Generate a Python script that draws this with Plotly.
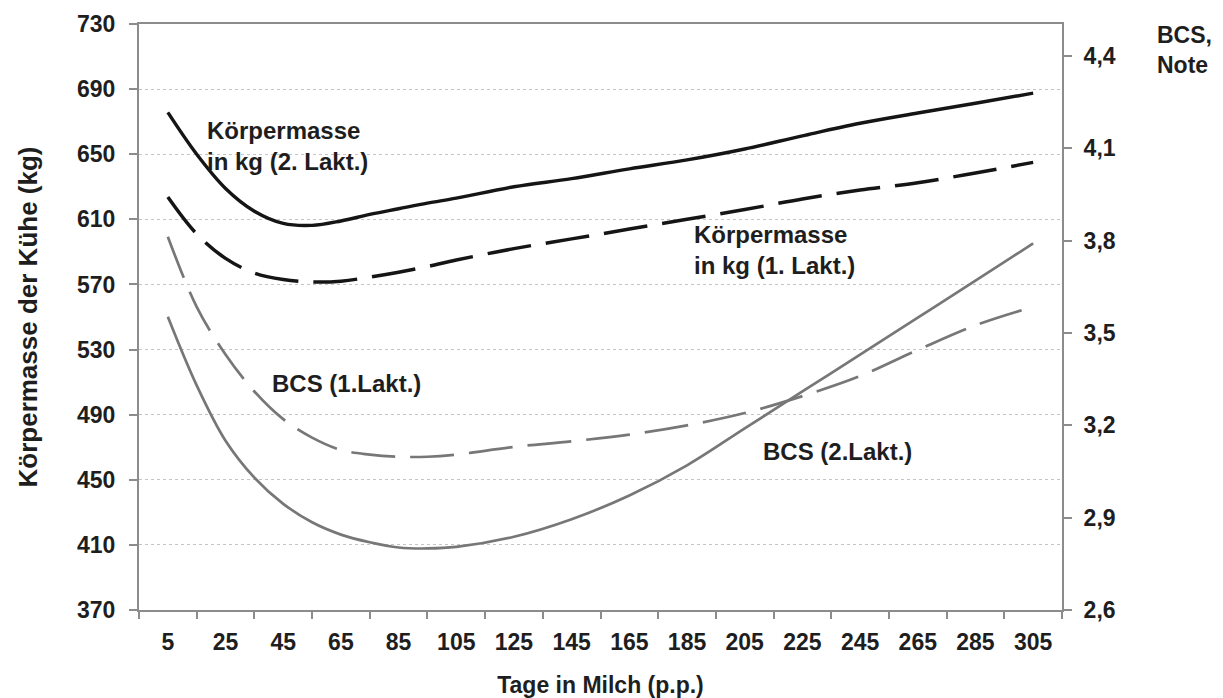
import plotly.graph_objects as go

# ---- data ----
days = [5, 15, 25, 35, 45, 55, 65, 75, 85, 95, 105, 125, 145, 165, 185, 205, 225, 245, 265, 285, 305]

km_lakt2 = [675.7, 650, 629, 615, 607.5, 606.3, 609, 613, 616.5, 620, 623, 630, 635, 641, 646.5,
            653.2, 661.3, 669.0, 675.3, 681.3, 687.5]
km_lakt1 = [623.7, 601, 586, 577, 573, 571.5, 572, 574.5, 577.5, 581, 585, 592, 598, 604, 610,
            616, 622.5, 628, 632.5, 638.5, 645]
bcs_lakt1 = [3.813, 3.585, 3.43, 3.31, 3.22, 3.16, 3.12, 3.105, 3.098, 3.098, 3.105, 3.13, 3.148,
             3.17, 3.20, 3.24, 3.295, 3.36, 3.445, 3.525, 3.585]
bcs_lakt2 = [3.553, 3.33, 3.15, 3.03, 2.945, 2.885, 2.845, 2.82, 2.803, 2.80, 2.805, 2.838, 2.895,
             2.972, 3.07, 3.19, 3.31, 3.43, 3.55, 3.67, 3.791]

x_tick_vals = [5, 25, 45, 65, 85, 105, 125, 145, 165, 185, 205, 225, 245, 265, 285, 305]
x_tick_marks = [-5, 15, 35, 55, 75, 95, 115, 135, 155, 175, 195, 215, 235, 255, 275, 295, 315]
y_left_ticks = [370, 410, 450, 490, 530, 570, 610, 650, 690, 730]
y_right_ticks = [2.6, 2.9, 3.2, 3.5, 3.8, 4.1, 4.4]
y_right_text = ["2,6", "2,9", "3,2", "3,5", "3,8", "4,1", "4,4"]

label_km2 = "Körpermasse<br>in kg (2. Lakt.)"
label_km1 = "Körpermasse<br>in kg (1. Lakt.)"
label_bcs1 = "BCS (1.Lakt.)"
label_bcs2 = "BCS (2.Lakt.)"

FONT = "Liberation Sans"
TXT = "#1e1e1e"
AX = "#8c8c8c"
BLACK = "#151515"
GRAY = "#777777"

fig = go.Figure()
fig.add_trace(go.Scatter(x=days, y=km_lakt2, mode="lines", line=dict(color=BLACK, width=3.4, shape="spline"),
                         showlegend=False))
fig.add_trace(go.Scatter(x=days, y=km_lakt1, mode="lines",
                         line=dict(color=BLACK, width=3.5, shape="spline", dash="44px,15px"), showlegend=False))
fig.add_trace(go.Scatter(x=days, y=bcs_lakt1, mode="lines", yaxis="y2",
                         line=dict(color=GRAY, width=2.7, shape="spline", dash="44px,15px"), showlegend=False))
fig.add_trace(go.Scatter(x=days, y=bcs_lakt2, mode="lines", yaxis="y2",
                         line=dict(color=GRAY, width=2.7, shape="spline"), showlegend=False))

ann_font = dict(family=FONT, size=24, color=TXT)
fig.add_annotation(x=17.8, y=654.8, text=f"<b>{label_km2}</b>", showarrow=False, xanchor="left",
                   yanchor="middle", align="left", font=ann_font)
fig.add_annotation(x=186.8, y=591, text=f"<b>{label_km1}</b>", showarrow=False, xanchor="left",
                   yanchor="middle", align="left", font=ann_font)
fig.add_annotation(x=40.3, y=509.4, text=f"<b>{label_bcs1}</b>", showarrow=False, xanchor="left",
                   yanchor="middle", align="left", font=ann_font)
fig.add_annotation(x=210.7, y=467.2, text=f"<b>{label_bcs2}</b>", showarrow=False, xanchor="left",
                   yanchor="middle", align="left", font=ann_font)
fig.add_annotation(x=1.1008, y=0.9556, xref="paper", yref="paper", text="<b>BCS,<br>Note</b>",
                   showarrow=False, xanchor="left", yanchor="middle", align="left",
                   font=dict(family=FONT, size=23, color=TXT))

fig.update_layout(
    width=1215, height=690,
    margin=dict(l=131, r=161, t=16, b=88),
    paper_bgcolor="white", plot_bgcolor="white",
    font=dict(family=FONT, color=TXT),
    xaxis=dict(
        range=[-5, 315], tickmode="array", tickvals=x_tick_vals,
        ticktext=[f"<b>{v}</b>" for v in x_tick_vals], ticks="", ticklabelstandoff=10,
        tickfont=dict(family=FONT, size=23, color=TXT),
        showline=True, linecolor=AX, linewidth=2, mirror=True, showgrid=False, zeroline=False,
        minor=dict(tickmode="array", tickvals=x_tick_marks, ticks="outside", ticklen=7,
                   tickcolor=AX, tickwidth=1.5, showgrid=False),
        title=dict(text="<b>Tage in Milch (p.p.)</b>", font=dict(family=FONT, size=23, color=TXT), standoff=24),
        automargin=False,
    ),
    yaxis=dict(
        range=[370, 730], tickmode="array", tickvals=y_left_ticks,
        ticktext=[f"<b>{v}</b>" for v in y_left_ticks],
        ticks="outside", ticklen=8, tickcolor=AX, tickwidth=1.5, ticklabelstandoff=9,
        tickfont=dict(family=FONT, size=23, color=TXT),
        showline=True, linecolor=AX, linewidth=2, zeroline=False,
        showgrid=True, gridcolor="#c4c4c4", griddash="dot", gridwidth=1,
        title=dict(text="<b>Körpermasse der Kühe (kg)</b>", font=dict(family=FONT, size=26, color=TXT),
                   standoff=32),
        automargin=False,
    ),
    yaxis2=dict(
        range=[2.6, 4.504], overlaying="y", side="right", tickmode="array",
        tickvals=y_right_ticks, ticktext=[f"<b>{t}</b>" for t in y_right_text],
        ticks="outside", ticklen=8, tickcolor=AX, tickwidth=1.5, ticklabelstandoff=7,
        tickfont=dict(family=FONT, size=23, color=TXT),
        showline=True, linecolor=AX, linewidth=2, zeroline=False, showgrid=False,
        automargin=False,
    ),
)

fig.write_html("out.html")
